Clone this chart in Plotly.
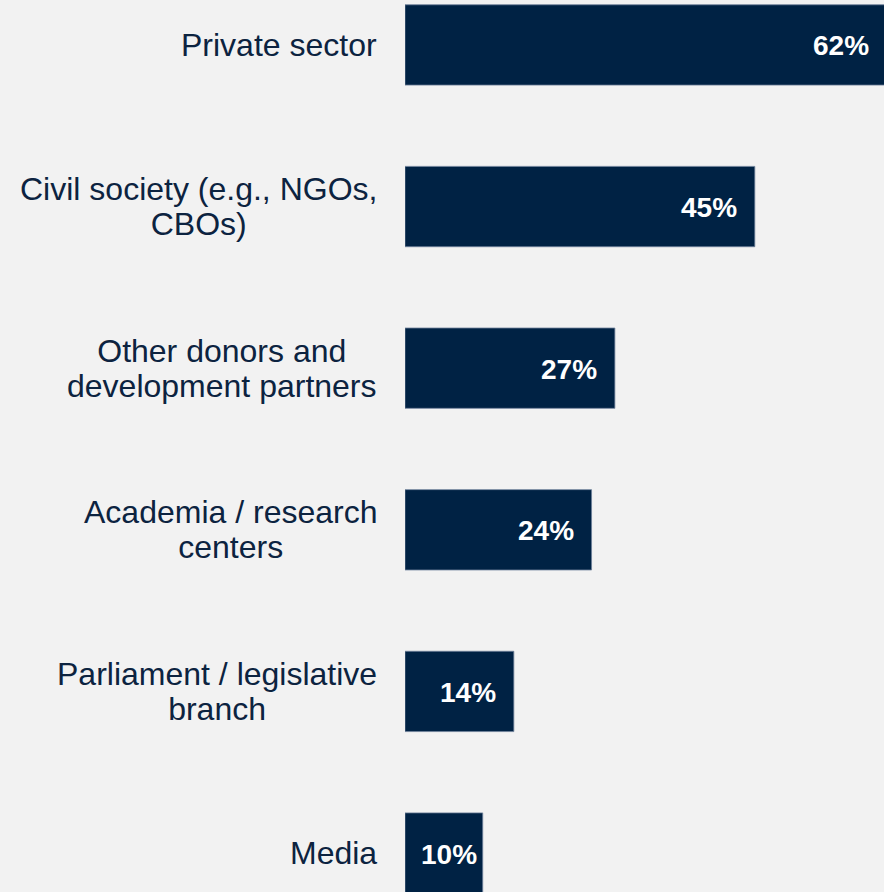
import plotly.graph_objects as go

# Survey shares by stakeholder group (percent)
categories = [
    "Private sector",
    "Civil society (e.g., NGOs,<br>CBOs)",
    "Other donors and<br>development partners",
    "Academia / research<br>centers",
    "Parliament / legislative<br>branch",
    "Media",
]
values = [62, 45, 27, 24, 14, 10]
value_labels = [f"{v}%" for v in values]

BAR = "#002244"
INK = "#0c2340"
BG = "#f2f2f2"
FONT = "Liberation Sans, Arial, sans-serif"

W, H = 884, 892
LEFT = 405
XMAX = 61.62
px_per_unit = (W - LEFT) / XMAX

idx = list(range(len(categories)))

fig = go.Figure(
    go.Bar(
        x=values,
        y=idx,
        orientation="h",
        width=0.497,
        marker=dict(color=BAR, line=dict(color="#6f819b", width=0.8)),
        hoverinfo="skip",
    )
)

annotations = []
# value labels inside the bar ends (paper x so bars running past the edge keep their label)
for i, (v, t) in enumerate(zip(values, value_labels)):
    bar_px = v * px_per_unit
    shift = -16 if bar_px > 95 else -4
    annotations.append(dict(
        x=v / XMAX, y=i, xref="paper", yref="y", text=f"<b>{t}</b>",
        showarrow=False, xanchor="right", yanchor="middle",
        xshift=shift, yshift=-1,
        font=dict(family=FONT, size=28, color="white"),
    ))

# category labels, lines centred within a right-aligned block
for i, c in enumerate(categories):
    lines = c.split("<br>")
    txt = "<br>".join(f"<span style='font-size:32px'>{ln}</span>" for ln in lines)
    annotations.append(dict(
        x=0, y=i, xref="paper", yref="y", text=txt,
        showarrow=False, xanchor="right", yanchor="middle", align="center",
        xshift=-26, yshift=0,
        font=dict(family=FONT, size=27, color=INK),
    ))

fig.update_layout(
    width=W, height=H,
    margin=dict(l=LEFT, r=0, t=0, b=0),
    paper_bgcolor=BG, plot_bgcolor=BG,
    showlegend=False,
    bargap=0.5,
    xaxis=dict(range=[0, XMAX], visible=False, fixedrange=True),
    yaxis=dict(range=[5.241, -0.278], visible=False, fixedrange=True),
    annotations=annotations,
)

fig.write_html("out.html", config={"displayModeBar": False})
